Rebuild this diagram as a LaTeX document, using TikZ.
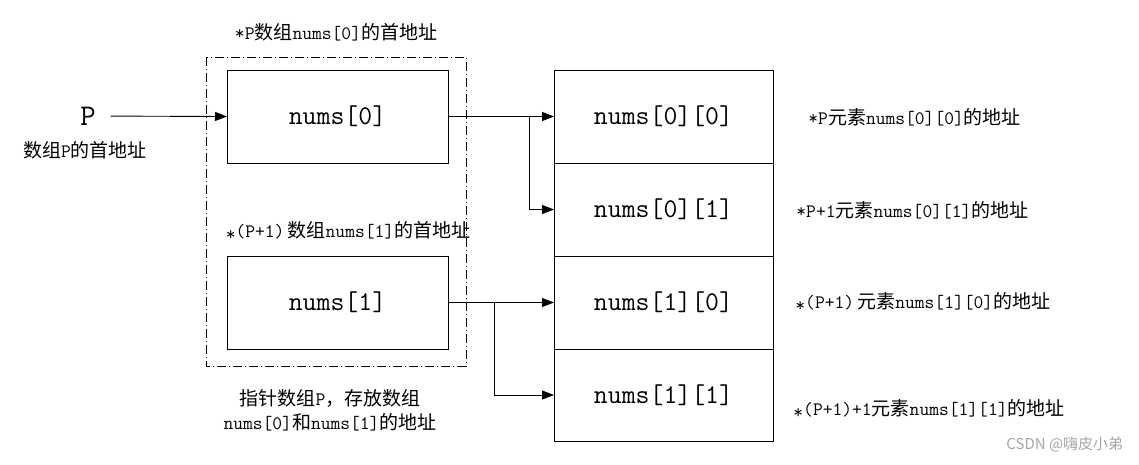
\documentclass[tikz,border=0pt]{standalone}
\usepackage{fontspec}
\setmainfont{Latin Modern Mono}
\newfontfamily\cjk{Noto Sans CJK SC}
\newcommand{\zh}[1]{{\cjk #1}}
\newcommand{\deref}{\raisebox{-.2em}{*}}
\usetikzlibrary{arrows.meta,positioning}

\begin{document}
\begin{tikzpicture}[x=1pt,y=-1pt,->,>={Triangle[length=12pt,width=9pt]},line width=0.9pt]
  \tikzstyle{cell}=[draw=black,text=black,minimum width=221pt,minimum height=93pt,inner sep=0pt,outer sep=0pt,font=\fontsize{27}{30}\selectfont]
  \tikzstyle{note}=[text=black,inner sep=0pt,font=\fontsize{19}{24}\selectfont]

  \useasboundingbox (0,0) rectangle (1139,464);

  % pointer P
  \node[font=\fontsize{30}{32}\selectfont] (P) at (88,116) {P};
  \node[note] (Plbl) at (85,150) {\zh{数组}P\zh{的首地址}};

  % pointer array
  \node[cell] (n0) at (337.5,116.5) {nums[0]};
  \node[cell] (n1) at (337.5,302.5) {nums[1]};
  \draw[-,dash pattern=on 9pt off 3pt on 1pt off 3pt,line width=0.7pt] (206,57) rectangle (466,366);
  \node[note] (n0lbl) at (336,32) {*P\zh{数组}nums[0]\zh{的首地址}};
  \node[note] (n1lbl) at (348,231) {\deref(P+1)\,\zh{数组}nums[1]\zh{的首地址}};
  \node[note,align=center] (arrlbl) at (330,410) {\zh{指针数组}P\zh{，存放数组}\\nums[0]\zh{和}nums[1]\zh{的地址}};

  % element array
  \node[cell,minimum width=219pt] (a00) at (663.5,116.5) {nums[0][0]};
  \node[cell,minimum width=219pt] (a01) [below=0pt of a00] {nums[0][1]};
  \node[cell,minimum width=219pt] (a10) [below=0pt of a01] {nums[1][0]};
  \node[cell,minimum width=219pt,minimum height=92pt] (a11) [below=0pt of a10] {nums[1][1]};

  \node[note,anchor=west] (a00lbl) at (808,117) {*P\zh{元素}nums[0][0]\zh{的地址}};
  \node[note,anchor=west] (a01lbl) at (796,210) {*P+1\zh{元素}nums[0][1]\zh{的地址}};
  \node[note,anchor=west] (a10lbl) at (795,302) {\deref(P+1)\,\zh{元素}nums[1][0]\zh{的地址}};
  \node[note,anchor=west] (a11lbl) at (793,409) {\deref(P+1)+1\zh{元素}nums[1][1]\zh{的地址}};

  \node[text=gray!70,font=\cjk\fontsize{15}{18}\selectfont,anchor=east] (wm) at (1127,444) {CSDN @嗨皮小弟};

  % links
  \coordinate (b0) at (529,116.5);
  \coordinate (b1) at (494,302.5);
  \draw[shorten <=11pt] (P) -- (n0.west);
  \draw (n0.east) -- (a00.west);
  \draw (b0) |- (a01.west);
  \draw (n1.east) -- (a10.west);
  \draw (b1) |- (a11.west);
\end{tikzpicture}
\end{document}
